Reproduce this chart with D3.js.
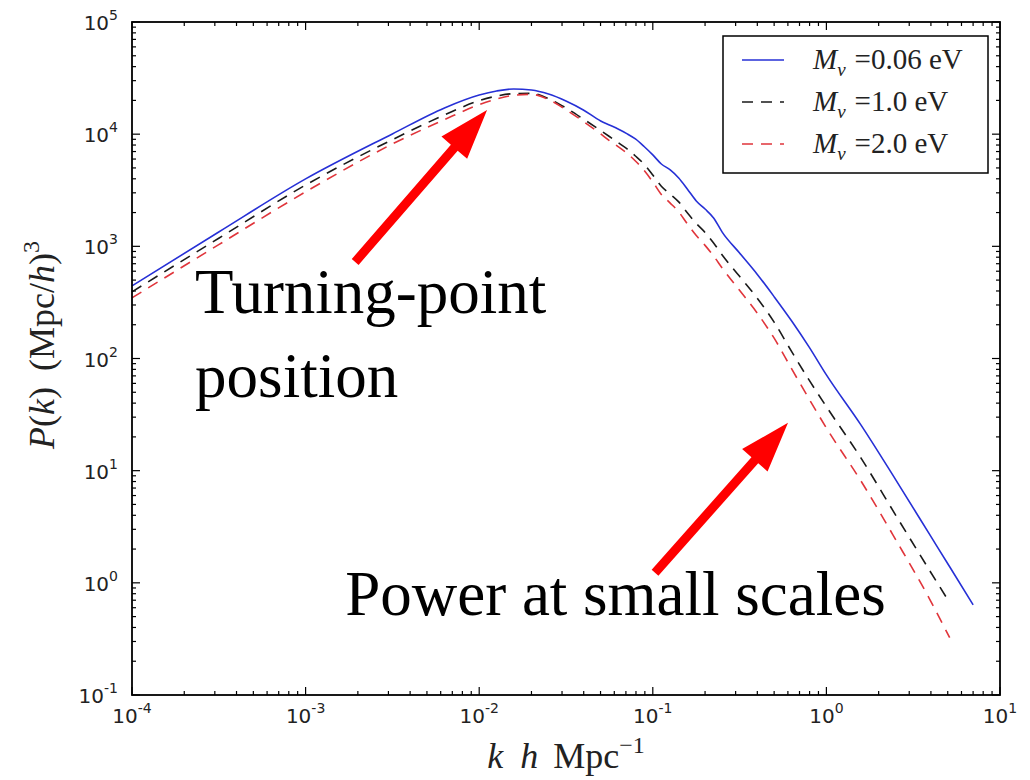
<!DOCTYPE html>
<html>
<head>
<meta charset="utf-8">
<script src="https://cdn.jsdelivr.net/npm/d3@7"></script>
<style>
  html, body { margin: 0; padding: 0; background: #fff; }
  svg { display: block; }
  .serif { font-family: "Liberation Serif", "Times New Roman", serif; }
  .sans { font-family: "DejaVu Sans", sans-serif; }
</style>
</head>
<body>
<svg id="chart" width="1030" height="780"></svg>
<script>
// ---- data ----
const kValues = [1e-4, 3.16e-4, 1e-3, 3.16e-3, 6.31e-3, 0.01, 0.0126, 0.0158, 0.02, 0.0251,
  0.0316, 0.0398, 0.0501, 0.0562, 0.0631, 0.0708, 0.0794, 0.0891, 0.1, 0.112,
  0.126, 0.141, 0.158, 0.178, 0.2, 0.224, 0.251, 0.316, 0.398, 0.501,
  0.631, 0.794, 1.0, 1.58, 2.51, 3.98, 5.13, 7.0];

const pMnu006 = [444, 1343, 3990, 10050, 17140, 22340, 24270, 25290, 24770, 22800,
  19770, 16440, 13120, 12080, 11120, 10120, 9060, 7760, 6530, 5420,
  4800, 4070, 3250, 2540, 2150, 1790, 1340, 873, 568, 354,
  216, 127, 71.4, 25.6, 8.28, 2.62, 1.39, 0.637];

const pMnu10 = [393, 1180, 3520, 8930, 14830, 19890, 21860, 22960, 23100, 20750,
  17140, 13650, 10760, 9530, 8410, 7430, 6390, 5400, 4330, 3430,
  2920, 2490, 1990, 1600, 1330, 1070, 838, 540, 348, 210,
  115, 64.4, 37.2, 13.0, 4.00, 1.25, 0.664, null];

const pMnu20 = [347, 1035, 3060, 8170, 13490, 18320, 20560, 22180, 22650, 20330,
  16520, 13000, 10050, 8770, 7740, 6780, 5770, 4760, 3750, 2900,
  2430, 2030, 1590, 1250, 1020, 820, 641, 405, 256, 151,
  80.7, 43.7, 24.0, 8.11, 2.42, 0.692, 0.324, null];

const seriesNames = ["0.06", "1.0", "2.0"];
const xTickExponents = [-4, -3, -2, -1, 0, 1];
const yTickExponents = [-1, 0, 1, 2, 3, 4, 5];

// annotations in data coordinates [k, P]
const arrowTurning = { from: [1.93e-3, 726], to: [0.0111, 16440] };
const arrowSmall = { from: [0.103, 1.23], to: [0.601, 26.7] };
const textTurning = { lines: ["Turning-point", "position"], at: [[2.31e-4, 255], [2.31e-4, 45.5]] };
const textSmall = { lines: ["Power at small scales"], at: [[1.69e-3, 0.519]] };

// ---- layout ----
const svg = d3.select("#chart");
const plot = { left: 132, right: 1000, top: 22, bottom: 695 };
const x = d3.scaleLog().domain([1e-4, 10]).range([plot.left, plot.right]);
const y = d3.scaleLog().domain([0.1, 1e5]).range([plot.bottom, plot.top]);

const styles = [
  { color: "#2630d6", dash: null },
  { color: "#1a1a1a", dash: "11,8" },
  { color: "#e0353b", dash: "11,8" }
];
const seriesData = [pMnu006, pMnu10, pMnu20];

// ---- ticks (inward, all four sides) ----
const minorX = [];
for (let e = -4; e < 1; e++) for (let m = 2; m <= 9; m++) minorX.push(m * Math.pow(10, e));
const minorY = [];
for (let e = -1; e < 5; e++) for (let m = 2; m <= 9; m++) minorY.push(m * Math.pow(10, e));

const tickG = svg.append("g").attr("stroke", "#000").attr("stroke-width", 1.2);
function xt(vals, len) {
  vals.forEach(v => {
    const px = x(v);
    tickG.append("line").attr("x1", px).attr("x2", px).attr("y1", plot.bottom).attr("y2", plot.bottom - len);
    tickG.append("line").attr("x1", px).attr("x2", px).attr("y1", plot.top).attr("y2", plot.top + len);
  });
}
function yt(vals, len) {
  vals.forEach(v => {
    const py = y(v);
    tickG.append("line").attr("y1", py).attr("y2", py).attr("x1", plot.left).attr("x2", plot.left + len);
    tickG.append("line").attr("y1", py).attr("y2", py).attr("x1", plot.right).attr("x2", plot.right - len);
  });
}
xt(xTickExponents.map(e => Math.pow(10, e)), 8);
xt(minorX, 4);
yt(yTickExponents.map(e => Math.pow(10, e)), 8);
yt(minorY, 4);

// ---- curves ----
const line = d3.line()
  .defined(d => d[1] != null)
  .x(d => x(d[0]))
  .y(d => y(d[1]))
  .curve(d3.curveMonotoneX);

const curveG = svg.append("g");
seriesData.forEach((vals, i) => {
  const pts = kValues.map((k, j) => [k, vals[j]]);
  curveG.append("path")
    .datum(pts)
    .attr("fill", "none")
    .attr("stroke", styles[i].color)
    .attr("stroke-width", 1.6)
    .attr("stroke-dasharray", styles[i].dash)
    .attr("d", line);
});

// ---- frame ----
svg.append("rect")
  .attr("x", plot.left).attr("y", plot.top)
  .attr("width", plot.right - plot.left).attr("height", plot.bottom - plot.top)
  .attr("fill", "none").attr("stroke", "#000").attr("stroke-width", 1.8);

// ---- tick labels ----
xTickExponents.forEach(e => {
  const t = svg.append("text")
    .attr("class", "sans")
    .attr("x", x(Math.pow(10, e)))
    .attr("y", plot.bottom + 28)
    .attr("text-anchor", "middle")
    .style("font-size", "20px")
    .attr("fill", "#222");
  t.append("tspan").text("10");
  t.append("tspan").attr("dy", -10).style("font-size", "14px").text(String(e));
});
yTickExponents.forEach(e => {
  const t = svg.append("text")
    .attr("class", "sans")
    .attr("x", plot.left - 14)
    .attr("y", y(Math.pow(10, e)) + 8)
    .attr("text-anchor", "end")
    .style("font-size", "20px")
    .attr("fill", "#222");
  t.append("tspan").text("10");
  t.append("tspan").attr("dy", -10).style("font-size", "14px").text(String(e));
});

// ---- axis labels ----
const xl = svg.append("text")
  .attr("class", "serif")
  .attr("x", 566)
  .attr("y", 768)
  .attr("text-anchor", "middle")
  .style("font-size", "36px")
  .attr("fill", "#222");
xl.append("tspan").style("font-style", "italic").text("k");
xl.append("tspan").attr("dx", 17).style("font-style", "italic").text("h");
xl.append("tspan").attr("dx", 15).text("Mpc");
xl.append("tspan").attr("dy", -15).style("font-size", "24px").text("\u22121");

const yl = svg.append("text")
  .attr("class", "serif")
  .attr("transform", "translate(54, 345) rotate(-90)")
  .attr("text-anchor", "middle")
  .style("font-size", "36px")
  .attr("fill", "#222");
yl.append("tspan").style("font-style", "italic").text("P");
yl.append("tspan").text("(");
yl.append("tspan").style("font-style", "italic").text("k");
yl.append("tspan").text(")");
yl.append("tspan").attr("dx", 16).text("(Mpc/");
yl.append("tspan").style("font-style", "italic").text("h");
yl.append("tspan").text(")");
yl.append("tspan").attr("dy", -15).style("font-size", "24px").text("3");

// ---- legend ----
const lg = svg.append("g");
lg.append("rect")
  .attr("x", 723).attr("y", 36).attr("width", 265).attr("height", 137)
  .attr("fill", "#fff").attr("stroke", "#000").attr("stroke-width", 1.5);
seriesNames.forEach((name, i) => {
  const yy = 60 + i * 42;
  lg.append("line")
    .attr("x1", 742).attr("x2", 784).attr("y1", yy).attr("y2", yy)
    .attr("stroke", styles[i].color).attr("stroke-width", 1.6)
    .attr("stroke-dasharray", styles[i].dash);
  const t = lg.append("text")
    .attr("class", "serif")
    .attr("x", 813).attr("y", yy + 9)
    .style("font-size", "29px").attr("fill", "#222");
  t.append("tspan").style("font-style", "italic").text("M");
  t.append("tspan").style("font-style", "italic").style("font-size", "19px").attr("dy", 7).text("\u03BD");
  t.append("tspan").attr("dy", -7).attr("dx", 9).text("=" + name + " eV");
});

// ---- annotations ----
function drawArrow(a) {
  const x0 = x(a.from[0]), y0 = y(a.from[1]);
  const x1 = x(a.to[0]), y1 = y(a.to[1]);
  const dx = x1 - x0, dy = y1 - y0, L = Math.hypot(dx, dy);
  const ux = dx / L, uy = dy / L, nx = -uy, ny = ux;
  const headLen = 50, headHalf = 17, shaftHalf = 4.5;
  const bx = x1 - ux * headLen, by = y1 - uy * headLen;
  const pts = [
    [x0 + nx * shaftHalf, y0 + ny * shaftHalf],
    [bx + nx * shaftHalf, by + ny * shaftHalf],
    [bx + nx * headHalf, by + ny * headHalf],
    [x1, y1],
    [bx - nx * headHalf, by - ny * headHalf],
    [bx - nx * shaftHalf, by - ny * shaftHalf],
    [x0 - nx * shaftHalf, y0 - ny * shaftHalf]
  ];
  svg.append("polygon").attr("points", pts.map(p => p.join(",")).join(" ")).attr("fill", "#ff0000");
}
drawArrow(arrowTurning);
drawArrow(arrowSmall);

[textTurning, textSmall].forEach(tt => {
  tt.lines.forEach((s, i) => {
    svg.append("text")
      .attr("class", "serif")
      .attr("x", x(tt.at[i][0])).attr("y", y(tt.at[i][1]))
      .style("font-size", "63px").attr("fill", "#000")
      .text(s);
  });
});
</script>
</body>
</html>
